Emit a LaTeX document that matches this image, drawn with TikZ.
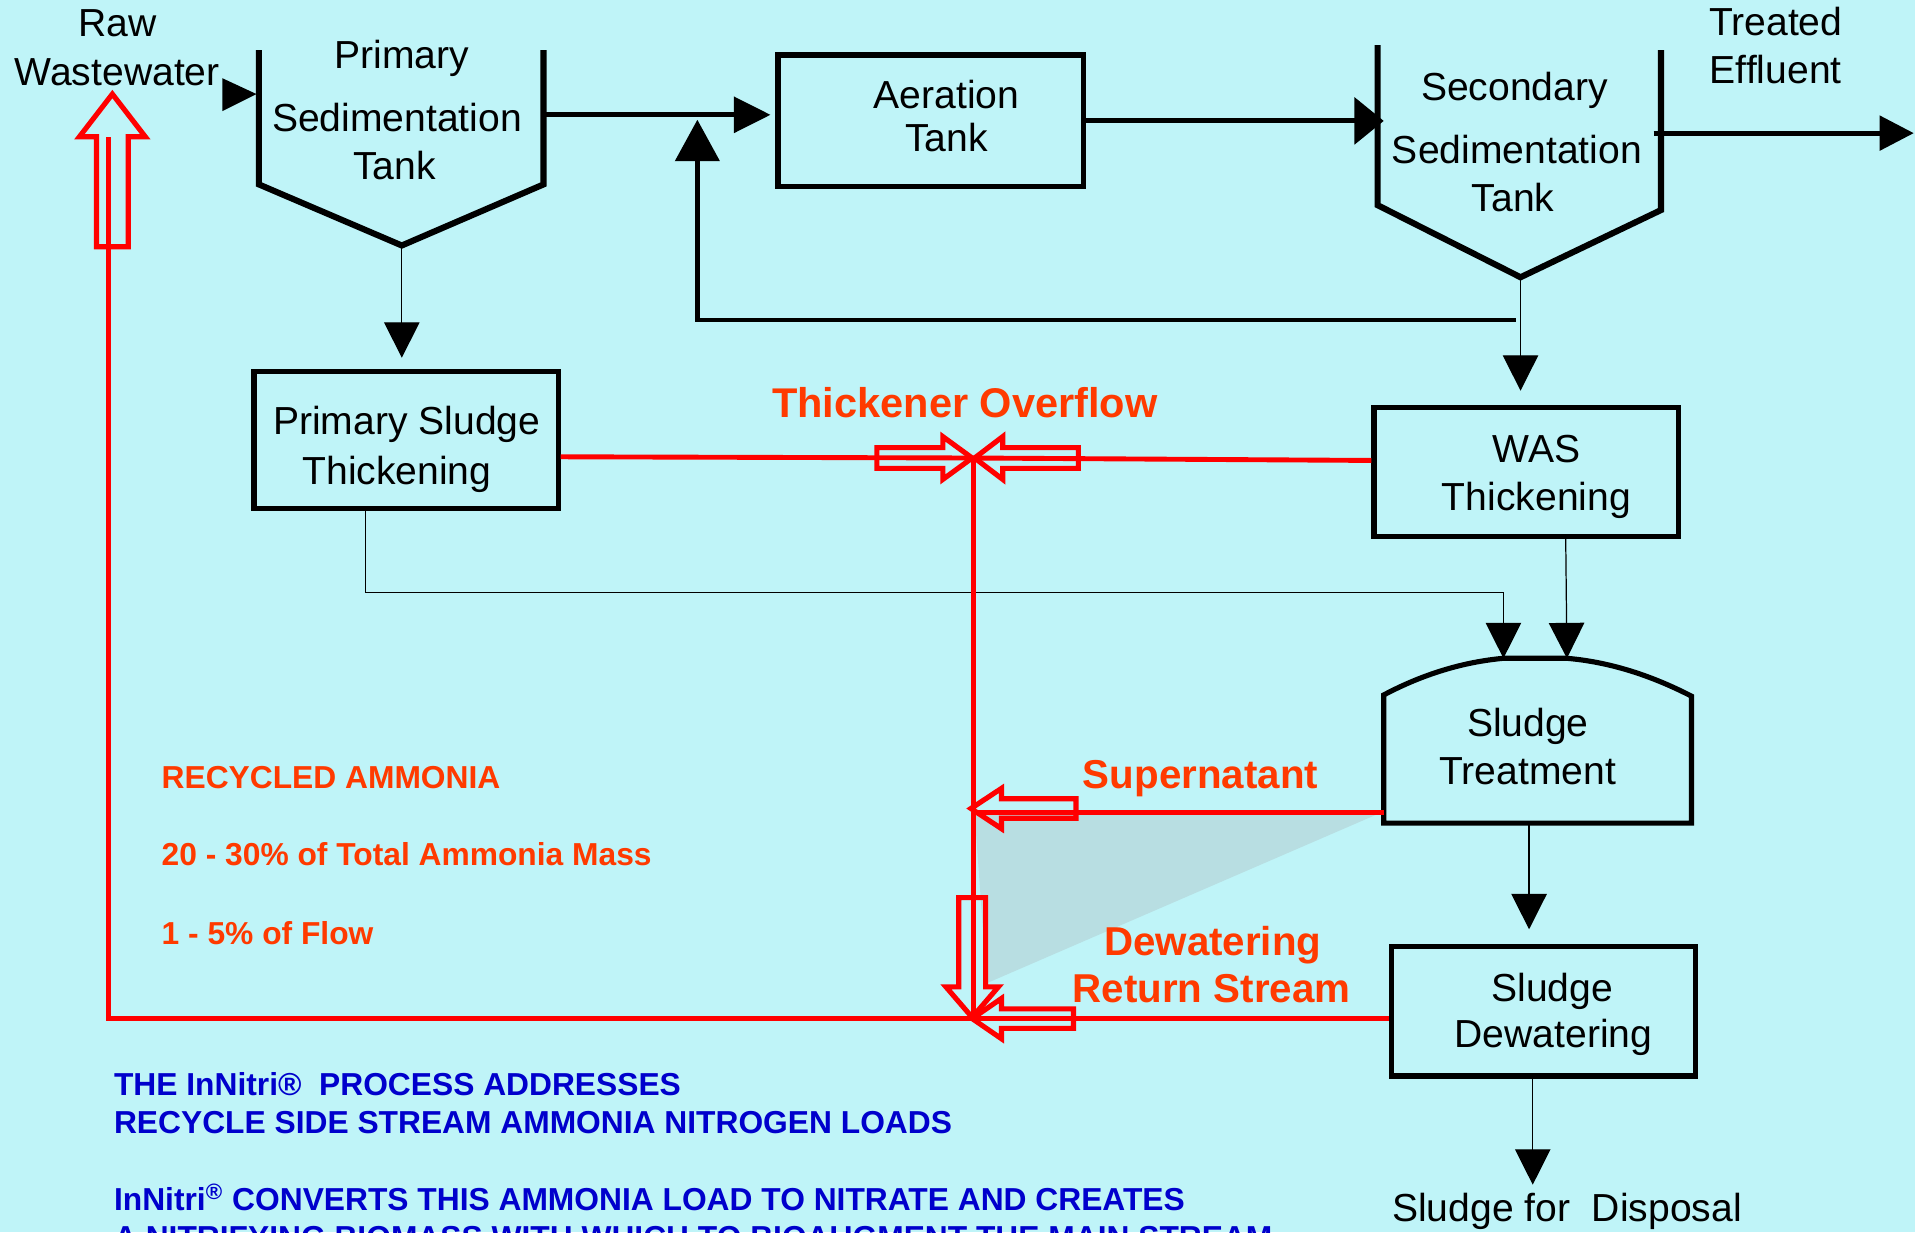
\documentclass[tikz,border=0pt]{standalone}
\usepackage{fontspec}
\setmainfont{Liberation Sans}
\usetikzlibrary{arrows.meta}
\definecolor{bg}{RGB}{191,244,248}
\definecolor{wedgecol}{RGB}{184,222,226}
\definecolor{lred}{RGB}{255,0,0}
\definecolor{tred}{RGB}{255,58,0}
\definecolor{tblue}{RGB}{0,0,204}
\newcommand\hollowarr[6]{%
  \draw[hollow, shift={#1}, rotate=#2] (0,0) -- (-#3,#4) -- (-#3,#5) -- (-#6,#5) -- (-#6,-#5) -- (-#3,-#5) -- (-#3,-#4) -- cycle;}
\tikzset{
  tankline/.style={line width=2.5pt, line join=miter},
  thickline/.style={line width=2pt},
  box/.style={draw, line width=2.1pt, inner sep=0pt},
  thinline/.style={line width=0.5pt},
  redline/.style={draw=lred, line width=2pt},
  hollow/.style={draw=lred, line width=2.1pt, line join=miter},
  thintip/.style={-{Triangle[length=14.5pt,width=14.5pt]}},
  lbl/.style={anchor=base, inner sep=0pt, font=\fontsize{16}{19}\selectfont},
  redlbl/.style={anchor=base, inner sep=0pt, text=tred, font=\bfseries\fontsize{16.5}{19}\selectfont},
  infolbl/.style={anchor=base west, inner sep=0pt, text=tred, font=\bfseries\fontsize{13}{15}\selectfont},
  bluelbl/.style={anchor=base west, inner sep=0pt, text=tblue, font=\bfseries\fontsize{13}{15}\selectfont},
}
\begin{document}
\begin{tikzpicture}[x=0.5pt,y=-0.5pt]
\clip (0,0) rectangle (1568,1009);
\fill[bg] (0,0) rectangle (1568,1009);

% shaded wedge
\fill[wedgecol] (798,666) -- (1127,667) -- (808,805) -- cycle;

% primary sedimentation tank
\coordinate (pst-tl) at (212,41);
\coordinate (pst-bl) at (212,151);
\coordinate (pst-apex) at (329,201);
\coordinate (pst-br) at (445,151);
\coordinate (pst-tr) at (445,41);
\coordinate (pst-out) at (445,94);
\draw[tankline] (pst-tl) -- (pst-bl) -- (pst-apex) -- (pst-br) -- (pst-tr);

% secondary sedimentation tank
\coordinate (sst-tl) at (1128,37);
\coordinate (sst-bl) at (1128,168);
\coordinate (sst-apex) at (1245,227);
\coordinate (sst-br) at (1360,172);
\coordinate (sst-tr) at (1360,41);
\coordinate (sst-in) at (1133,99);
\coordinate (sst-out) at (1354,109);
\draw[tankline] (sst-tl) -- (sst-bl) -- (sst-apex) -- (sst-br) -- (sst-tr);

% boxes
\node[box, minimum width=125pt, minimum height=54pt] (aer) at (762,99) {};
\node[box, minimum width=124.5pt, minimum height=56pt] (pstt) at (332.5,360) {};
\node[box, minimum width=124.5pt, minimum height=52.5pt] (was) at (1249.5,386.5) {};
\node[box, minimum width=124.5pt, minimum height=53pt] (dew) at (1263.5,828) {};

% sludge treatment
\coordinate (st-bl) at (1133,674);
\coordinate (st-sl) at (1133,569);
\coordinate (st-topL) at (1231,539);
\coordinate (st-topR) at (1283,539);
\coordinate (st-sr) at (1385,570);
\coordinate (st-br) at (1385,674);
\coordinate (st-bot) at (1252,674);
\coordinate (st-left) at (1133,665);
\draw[box, line join=miter] (st-bl) -- (st-sl) .. controls (1165,552) and (1198,542) .. (st-topL) -- (st-topR) .. controls (1318,542) and (1352,553) .. (st-sr) -- (st-br) -- cycle;

% main flow
\coordinate (inlet) at (210,77);
\fill (inlet) -- ++(-28,-13) -- ++(0,27) -- cycle;
\draw[thickline, -{Triangle[length=15pt,width=14.5pt]}] (pst-out) -- ([xshift=-2pt]pst-out -| aer.west);
\coordinate (ret-start) at (1241,262);
\coordinate (ret-tip) at (571,98);
\draw[thickline, -{Triangle[length=17pt,width=18pt]}] (ret-start) -| (ret-tip);
\draw[thickline, -{Triangle[length=12pt,width=19pt]}] (aer.east) -- (sst-in);
\coordinate (eff) at (1567,109);
\draw[thickline, -{Triangle[length=14pt,width=14pt]}] (sst-out) -- (eff);

% sludge lines
\draw[thinline, thintip, shorten >=4.5pt] (pst-apex) -- (pst-apex |- pstt.north);
\draw[thinline, thintip, shorten >=6pt] (sst-apex) -- (sst-apex |- was.north);
\draw[thinline, thintip] ([xshift=-16.75pt]pstt.south) -- ++(0,67) -| (st-topL);
\draw[thinline, thintip] ([xshift=16.25pt]was.south) -- (st-topR);
\draw[thinline, thintip, shorten >=6pt] (st-bot) -- (st-bot |- dew.north);
\coordinate (disp) at (1255,970);
\draw[thinline, thintip] ([xshift=-4.25pt]dew.south) -- (disp);

% red recycle lines
\coordinate (junc) at (797,375);
\coordinate (sup-j) at (797,665);
\coordinate (junc2) at (797,834);
\coordinate (rw-corner) at (89,834);
\coordinate (rw-top) at (89,112);
\draw[redline] ([yshift=-7pt]pstt.east) -- (junc);
\draw[redline] ([yshift=4.75pt]was.west) -- (junc);
\draw[redline] (junc) -- (junc2);
\draw[redline] (st-left) -- (sup-j);
\draw[redline] ([yshift=-3pt]dew.west) -- (junc2) -- (rw-corner) -- (rw-top);

% hollow arrows
\hollowarr{(796,375)}{0}{24}{17.5}{8.5}{78}
\hollowarr{(798,375)}{180}{23}{17.5}{8.5}{85}
\hollowarr{(795,662)}{180}{25}{16.5}{8}{86}
\hollowarr{(796,833)}{-90}{25}{21.5}{11}{98}
\hollowarr{(796,834)}{180}{24}{16.5}{8}{83}
\hollowarr{(92,77)}{90}{35}{27}{13}{125}

% labels
\node[lbl] (t-raw) at (96,30) {Raw};
\node[lbl] (t-ww) at (96,70) {Wastewater};
\node[lbl] (t-p1) at (329,56) {Primary};
\node[lbl] (t-p2) at (325,108) {Sedimentation};
\node[lbl] (t-p3) at (323,147) {Tank};
\node[lbl] (t-a1) at (775,89) {Aeration};
\node[lbl] (t-a2) at (775,124) {Tank};
\node[lbl] (t-s1) at (1240,82) {Secondary};
\node[lbl] (t-s2) at (1242,134) {Sedimentation};
\node[lbl] (t-s3) at (1239,173) {Tank};
\node[lbl] (t-e1) at (1454,29) {Treated};
\node[lbl] (t-e2) at (1454,68) {Effluent};
\node[lbl] (t-pt1) at (333,356) {Primary Sludge};
\node[lbl] (t-pt2) at (325,397) {Thickening};
\node[lbl] (t-w1) at (1258,379) {WAS};
\node[lbl] (t-w2) at (1258,418) {Thickening};
\node[lbl] (t-st1) at (1251,603) {Sludge};
\node[lbl] (t-st2) at (1251,642) {Treatment};
\node[lbl] (t-d1) at (1271,820) {Sludge};
\node[lbl] (t-d2) at (1272,858) {Dewatering};
\node[lbl] (t-disp) at (1283,1000) {Sludge for\ \ Disposal};

\node[redlbl, font=\bfseries\fontsize{17}{20}\selectfont] (t-to) at (790,342) {Thickener Overflow};
\node[redlbl] (t-sup) at (983,646) {Supernatant};
\node[redlbl] (t-dr1) at (993,782) {Dewatering};
\node[redlbl] (t-dr2) at (992,821) {Return Stream};

\node[infolbl] (t-r1) at (132,646) {RECYCLED AMMONIA};
\node[infolbl] (t-r2) at (132,709) {20 - 30\% of Total Ammonia Mass};
\node[infolbl] (t-r3) at (132,773) {1 - 5\% of Flow};

\node[bluelbl] (t-b1) at (93,897) {THE InNitri®\ \ PROCESS ADDRESSES};
\node[bluelbl] (t-b2) at (93,928) {RECYCLE SIDE STREAM AMMONIA NITROGEN LOADS};
\node[bluelbl] (t-b3) at (93,991) {InNitri\textsuperscript{®} CONVERTS THIS AMMONIA LOAD TO NITRATE AND CREATES};
\node[bluelbl] (t-b4) at (93,1022) {A NITRIFYING BIOMASS WITH WHICH TO BIOAUGMENT THE MAIN STREAM};
\end{tikzpicture}
\end{document}
